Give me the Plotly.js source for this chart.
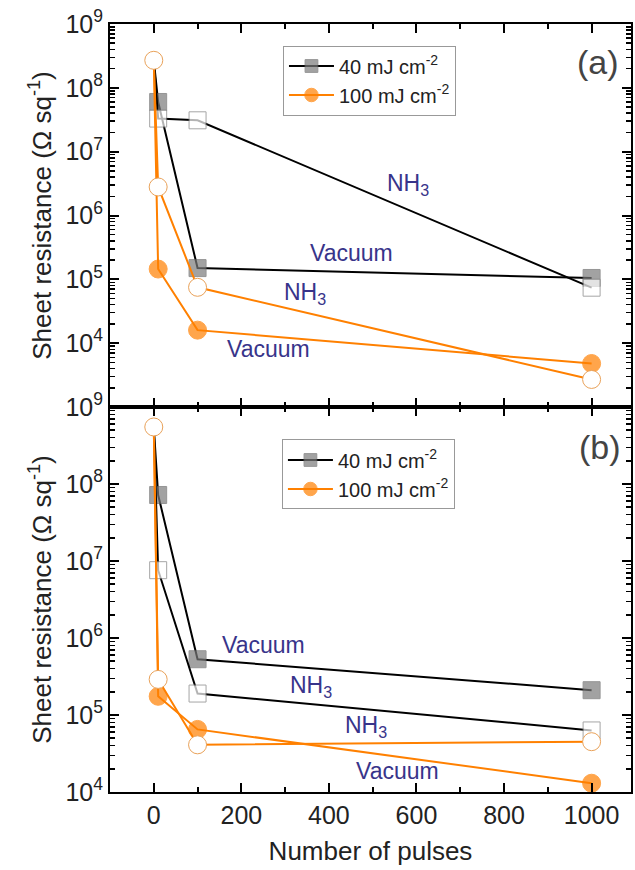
<!DOCTYPE html>
<html>
<head>
<meta charset="utf-8">
<script src="https://cdn.plot.ly/plotly-3.0.1.min.js"></script>
<style>html,body{margin:0;padding:0;background:#fff;}#chart{width:635px;height:870px;}</style>
</head>
<body>
<div id="chart"></div>
<script>
// ---- data ----
const pulses = [0, 10, 100, 1000];
// panel (a)
const a40Vac  = [2.7e8, 6.0e7, 1.5e5, 1.05e5];
const a40NH3  = [2.7e8, 3.3e7, 3.1e7, 7.4e4];
const a100Vac = [2.7e8, 1.45e5, 1.6e4, 4.8e3];
const a100NH3 = [2.7e8, 2.8e6, 7.5e4, 2.7e3];
// panel (b)
const b40Vac  = [5.5e8, 7.2e7, 5.3e5, 2.1e5];
const b40NH3  = [5.5e8, 7.6e6, 1.9e5, 6.3e4];
const b100Vac = [5.5e8, 1.75e5, 6.5e4, 1.3e4];
const b100NH3 = [5.5e8, 2.9e5, 4.1e4, 4.5e4];
// labels
const seriesNames = ['40 mJ cm<sup>-2</sup>', '100 mJ cm<sup>-2</sup>'];
const xTickVals = [0, 200, 400, 600, 800, 1000];
const xMinorVals = [100, 300, 500, 700, 900];
const yTickVals = [1e4, 1e5, 1e6, 1e7, 1e8, 1e9];
const yTickText = ['10<sup>4</sup>', '10<sup>5</sup>', '10<sup>6</sup>', '10<sup>7</sup>', '10<sup>8</sup>', '10<sup>9</sup>'];

const FONT = 'Liberation Sans, Arial, sans-serif';
const ORANGE = '#ff8000';
const GRAY = '#7b7b7b';
const TXT = '#38348a';

function sizes(base){ return pulses.map((p, i) => i === 0 ? 0 : base); }

function makeTraces(v40, n40, v100, n100, xa, ya, leg){
  return [
    {x: pulses, y: v40, xaxis: xa, yaxis: ya, mode: 'lines+markers', name: seriesNames[0], legend: leg,
     line: {color: '#000', width: 2},
     marker: {symbol: 'square', size: sizes(17), color: GRAY, line: {color: '#6a6a6a', width: 1}}},
    {x: pulses, y: n40, xaxis: xa, yaxis: ya, mode: 'lines+markers', showlegend: false,
     line: {color: '#000', width: 2},
     marker: {symbol: 'square', size: sizes(17), color: '#fff', line: {color: '#808080', width: 1}}},
    {x: pulses, y: v100, xaxis: xa, yaxis: ya, mode: 'lines+markers', name: seriesNames[1], legend: leg,
     line: {color: ORANGE, width: 2},
     marker: {symbol: 'circle', size: sizes(18), color: ORANGE, line: {color: ORANGE, width: 1}}},
    {x: pulses, y: n100, xaxis: xa, yaxis: ya, mode: 'lines+markers', showlegend: false,
     line: {color: ORANGE, width: 2},
     marker: {symbol: 'circle', size: 18, color: '#fff', line: {color: '#e9a25a', width: 1}}}
  ];
}

const data = [].concat(
  makeTraces(a40Vac, a40NH3, a100Vac, a100NH3, 'x2', 'y2', 'legend'),
  makeTraces(b40Vac, b40NH3, b100Vac, b100NH3, 'x', 'y', 'legend2')
);

const yMinor = [];
for (let e = 3; e <= 8; e++) for (let d = 2; d <= 9; d++) yMinor.push(d * Math.pow(10, e));

const split = 385 / 768;
const tickFont = {family: FONT, size: 25, color: '#222'};

function xAxis(extra){
  return Object.assign({
    range: [-100, 1090], showline: true, linecolor: '#000', linewidth: 2, mirror: 'ticks',
    ticks: 'inside', ticklen: 9, tickwidth: 2, tickcolor: '#000',
    tickmode: 'array', tickvals: xTickVals, tickfont: tickFont, showgrid: false, zeroline: false,
    minor: {tickmode: 'array', tickvals: xMinorVals, ticks: 'inside', ticklen: 5, tickwidth: 2, tickcolor: '#000', showgrid: false}
  }, extra);
}
function yAxis(extra){
  return Object.assign({
    type: 'log', showline: true, linecolor: '#000', linewidth: 2, mirror: 'ticks',
    ticks: 'inside', ticklen: 9, tickwidth: 2, tickcolor: '#000',
    tickmode: 'array', tickvals: yTickVals, ticktext: yTickText, tickfont: tickFont,
    showgrid: false, zeroline: false,
    minor: {tickmode: 'array', tickvals: yMinor, ticks: 'inside', ticklen: 5, tickwidth: 1.5, tickcolor: '#000', showgrid: false},
    title: {text: 'Sheet resistance (Ω sq<sup>-1</sup>)', font: {family: FONT, size: 26, color: '#222'}, standoff: 6}
  }, extra);
}

const ann = (text, x, y, yref, size, color) => ({text, x, y, xref: 'x', yref, showarrow: false,
  font: {family: FONT, size: size, color: color}, xanchor: 'center', yanchor: 'middle'});

const layout = {
  width: 635, height: 870,
  margin: {l: 110, r: 4, t: 24, b: 78},
  paper_bgcolor: '#fff', plot_bgcolor: '#fff',
  font: {family: FONT, color: '#222'},
  xaxis: xAxis({anchor: 'y', domain: [0, 1],
    title: {text: 'Number of pulses', font: {family: FONT, size: 26, color: '#222'}, standoff: 14}}),
  xaxis2: xAxis({anchor: 'y2', matches: 'x', showticklabels: false}),
  yaxis: yAxis({range: [4, 9], domain: [0, split], anchor: 'x'}),
  yaxis2: yAxis({range: [3, 9], domain: [split, 1], anchor: 'x2'}),
  legend: {x: 0.332, y: 0.972, xanchor: 'left', yanchor: 'top', bgcolor: '#fff', bordercolor: '#999', borderwidth: 1,
    font: {family: FONT, size: 20, color: '#222'}, itemwidth: 45, tracegroupgap: 0},
  legend2: {x: 0.330, y: 0.459, xanchor: 'left', yanchor: 'top', bgcolor: '#fff', bordercolor: '#999', borderwidth: 1,
    font: {family: FONT, size: 20, color: '#222'}, itemwidth: 45, tracegroupgap: 0},
  annotations: [
    ann('NH<sub>3</sub>', 580, 6.49, 'y2', 23, TXT),
    ann('Vacuum', 451, 5.41, 'y2', 23, TXT),
    ann('NH<sub>3</sub>', 345, 4.78, 'y2', 23, TXT),
    ann('Vacuum', 261, 3.91, 'y2', 23, TXT),
    ann('Vacuum', 250, 5.91, 'y', 23, TXT),
    ann('NH<sub>3</sub>', 360, 5.37, 'y', 23, TXT),
    ann('NH<sub>3</sub>', 485, 4.85, 'y', 23, TXT),
    ann('Vacuum', 556, 4.27, 'y', 23, TXT),
    ann('(a)', 1015, 8.40, 'y2', 34, '#444'),
    ann('(b)', 1019, 8.48, 'y', 34, '#444')
  ]
};

Plotly.newPlot('chart', data, layout, {displayModeBar: false, staticPlot: true});
</script>
</body>
</html>
